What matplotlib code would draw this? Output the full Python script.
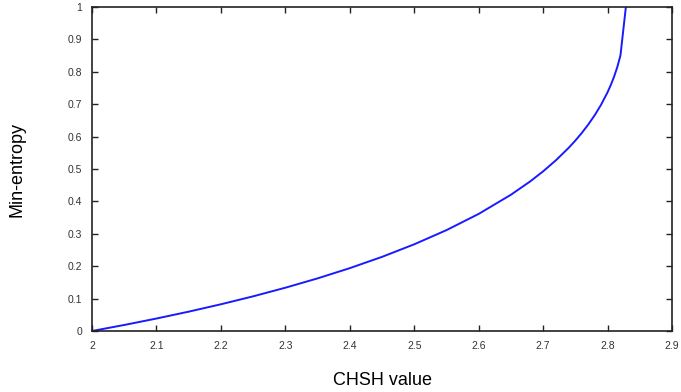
import numpy as np
import matplotlib
matplotlib.use('Agg')
from matplotlib import pyplot as plt

plt.rcParams['font.family'] = ['Liberation Sans', 'DejaVu Sans']

# CHSH value vs min-entropy
chsh = [2.00, 2.05, 2.10, 2.15, 2.20, 2.25, 2.30, 2.35, 2.40, 2.45, 2.50, 2.55,
        2.60, 2.65, 2.68, 2.70, 2.72, 2.74, 2.75, 2.76, 2.77, 2.78, 2.79, 2.80,
        2.805, 2.81, 2.815, 2.82, 2.8284]
hmin = [0.0, 0.0186, 0.0385, 0.0597, 0.0825, 0.1070, 0.1336, 0.1624, 0.1940, 0.2288,
        0.2676, 0.3113, 0.3614, 0.4205, 0.4618, 0.4928, 0.5272, 0.5661, 0.5878, 0.6113,
        0.6372, 0.6659, 0.6986, 0.7370, 0.7592, 0.7844, 0.8140, 0.8506, 1.0]

xticks = [2, 2.1, 2.2, 2.3, 2.4, 2.5, 2.6, 2.7, 2.8, 2.9]
xticklabels = ['2', '2.1', '2.2', '2.3', '2.4', '2.5', '2.6', '2.7', '2.8', '2.9']
yticks = [0, 0.1, 0.2, 0.3, 0.4, 0.5, 0.6, 0.7, 0.8, 0.9, 1]
yticklabels = ['0', '0.1', '0.2', '0.3', '0.4', '0.5', '0.6', '0.7', '0.8', '0.9', '1']

fig = plt.figure(figsize=(6.81, 3.92), dpi=100)
ax = fig.add_axes([0.1351, 0.1556, 0.8517, 0.8265])
ax.plot(chsh, hmin, color='#1a1aff', linewidth=1.4)
ax.set_xlim(2, 2.9)
ax.set_ylim(0, 1)
ax.set_xticks(xticks)
ax.set_xticklabels(xticklabels)
ax.set_yticks(yticks)
ax.set_yticklabels(yticklabels)
ax.tick_params(direction='in', length=4, width=1, top=True, right=True,
               labelsize=7.5, labelcolor='#333333', color='#222222', pad=7)
for sp in ax.spines.values():
    sp.set_linewidth(1.2)
    sp.set_color('#222222')
ax.set_xlabel('CHSH value', fontsize=13)
ax.set_ylabel('Min-entropy', fontsize=13)
ax.xaxis.set_label_coords(0.5, -0.127)
ax.yaxis.set_label_coords(-0.114, 0.5)
fig.savefig('out.png', dpi=100)
